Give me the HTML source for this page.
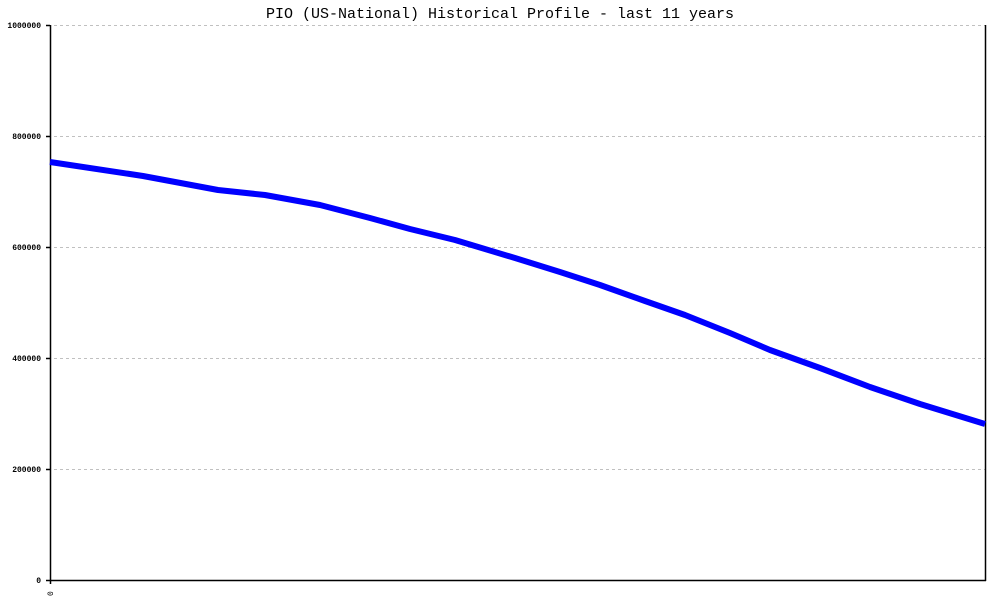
<!DOCTYPE html>
<html><head><style>
html,body{margin:0;padding:0;background:#fff;}
svg{display:block;}
</style></head><body>
<svg width="1000" height="600" xmlns="http://www.w3.org/2000/svg" font-family="Liberation Mono, monospace">
<rect width="1000" height="600" fill="#fff"/>
<text x="500" y="18" text-anchor="middle" font-size="15" fill="#000">PIO (US-National) Historical Profile - last 11 years</text>
<g stroke="#c0c0c0" stroke-width="1" stroke-dasharray="3,3">
<line x1="54" y1="25.5" x2="985" y2="25.5"/>
<line x1="54" y1="136.5" x2="985" y2="136.5"/>
<line x1="54" y1="247.5" x2="985" y2="247.5"/>
<line x1="54" y1="358.5" x2="985" y2="358.5"/>
<line x1="54" y1="469.5" x2="985" y2="469.5"/>
</g>
<g stroke="#000" stroke-width="1.5">
<line x1="50.5" y1="25" x2="50.5" y2="584"/>
<line x1="50" y1="580.5" x2="986" y2="580.5"/>
<line x1="985.5" y1="25" x2="985.5" y2="581"/>
<line x1="46" y1="25.5" x2="50" y2="25.5"/>
<line x1="46" y1="136.5" x2="50" y2="136.5"/>
<line x1="46" y1="247.5" x2="50" y2="247.5"/>
<line x1="46" y1="358.5" x2="50" y2="358.5"/>
<line x1="46" y1="469.5" x2="50" y2="469.5"/>
<line x1="46" y1="580.5" x2="50" y2="580.5"/>
</g>
<g font-size="8" text-anchor="end" fill="#000" font-weight="bold">
<text x="41" y="28">1000000</text>
<text x="41" y="139">800000</text>
<text x="41" y="250">600000</text>
<text x="41" y="361">400000</text>
<text x="41" y="472">200000</text>
<text x="41" y="583">0</text>
</g>
<text x="0" y="0" font-size="8" fill="#000" transform="translate(53,596) rotate(-90)">0</text>
<polyline fill="none" stroke="#0000ff" stroke-width="6" stroke-linejoin="round"
points="50,162 143,176 218,190 265,195 320,205 370,218 410,229 455,240 515,258 560,272 600,285 645,301 685,315 730,333 770,350 820,368 870,387 920,404 985,424"/>
</svg>
</body></html>
